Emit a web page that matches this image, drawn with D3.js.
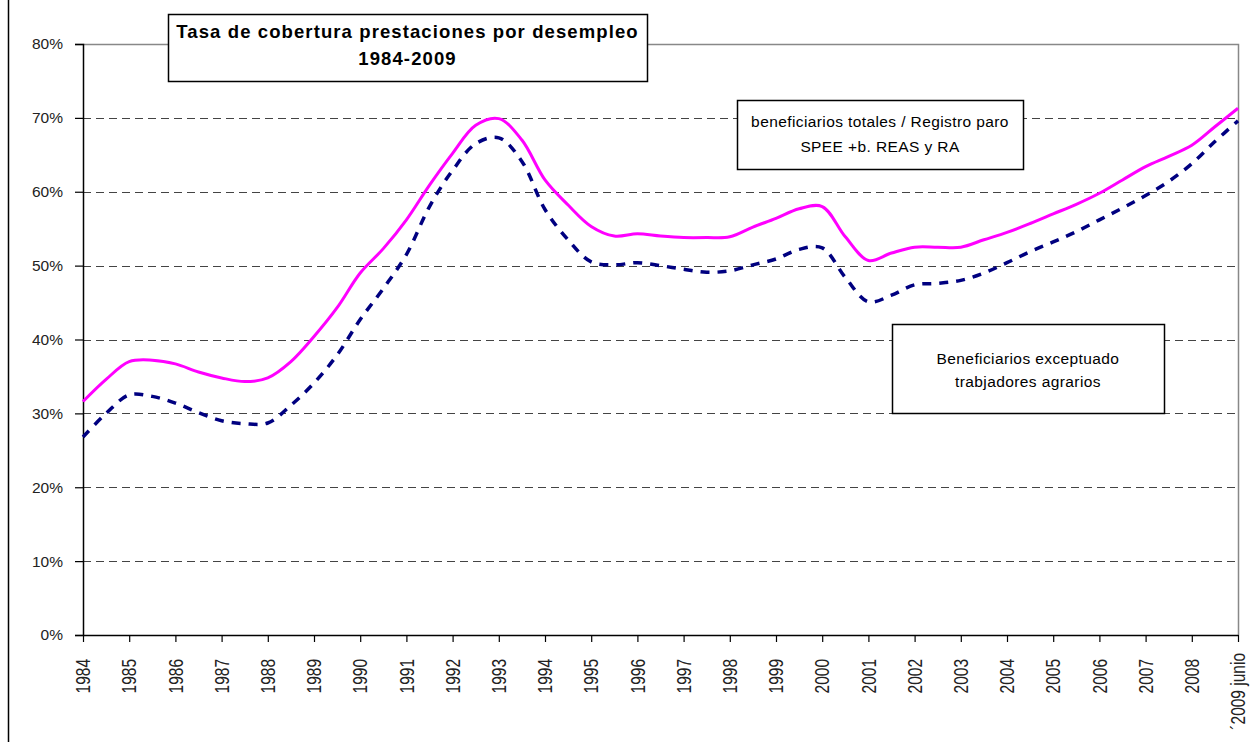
<!DOCTYPE html>
<html>
<head>
<meta charset="utf-8">
<script src="https://cdn.jsdelivr.net/npm/d3@7"></script>
<style>
  body { margin: 0; background: #fff; }
  svg { display: block; font-family: "Liberation Sans", Arial, sans-serif; }
</style>
</head>
<body>
<div id="chart"></div>
<script>
// tick labels on the category axis
const yearLabels = ['1984', '1985', '1986', '1987', '1988', '1989', '1990', '1991', '1992',
  '1993', '1994', '1995', '1996', '1997', '1998', '1999', '2000', '2001', '2002', '2003',
  '2004', '2005', '2006', '2007', '2008', '\u00b42009 junio'];

// half-year readings (%), 1984 .. 2009 junio
const totalRate = [31.6, 34.6, 37.0, 37.2, 36.7, 35.6, 34.8, 34.3, 34.8, 37.0,
  40.4, 44.3, 49.0, 52.3, 56.2, 60.9, 65.2, 69.0, 69.9, 67.0,
  61.6, 58.2, 55.3, 54.0, 54.3, 54.0, 53.8, 53.8, 53.9, 55.2,
  56.4, 57.7, 58.0, 53.9, 50.7, 51.7, 52.5, 52.5, 52.5, 53.5,
  54.5, 55.7, 57.0, 58.3, 59.8, 61.6, 63.4, 64.8, 66.3, 68.8, 71.3];

const exceptAgrarios = [26.8, 30.0, 32.5, 32.3, 31.4, 30.1, 29.0, 28.6, 28.7, 31.1,
  34.1, 37.9, 42.7, 46.9, 51.5, 58.0, 62.9, 66.5, 67.3, 64.1,
  57.6, 53.5, 50.5, 50.1, 50.4, 50.0, 49.5, 49.1, 49.3, 50.1,
  50.9, 52.2, 52.4, 48.4, 45.1, 46.0, 47.4, 47.6, 48.0, 49.0,
  50.4, 51.9, 53.2, 54.6, 56.2, 57.8, 59.5, 61.4, 63.8, 66.8, 69.6];

const yTicks = [0, 10, 20, 30, 40, 50, 60, 70, 80];

const width = 1254;
const height = 742;
const plot = { left: 83, right: 1238, top: 44, bottom: 635 };

const svg = d3.select('#chart')
  .append('svg')
  .attr('width', width)
  .attr('height', height);

// outer chart frame (only the left edge is in view)
svg.append('line')
  .attr('x1', 8.5).attr('x2', 8.5)
  .attr('y1', 0).attr('y2', height)
  .style('stroke', '#000')
  .style('stroke-width', 1.5);

const x = d3.scaleLinear()
  .domain([0, yearLabels.length - 1])
  .range([plot.left, plot.right]);

const y = d3.scaleLinear()
  .domain([0, 80])
  .range([plot.bottom, plot.top]);

// dashed gridlines
svg.append('g')
  .selectAll('line')
  .data(yTicks.filter((d) => d > 0 && d < 80))
  .enter()
  .append('line')
  .attr('x1', plot.left)
  .attr('x2', plot.right)
  .attr('y1', (d) => Math.round(y(d)) + 0.5)
  .attr('y2', (d) => Math.round(y(d)) + 0.5)
  .style('stroke', '#444')
  .style('stroke-width', 1.2)
  .style('stroke-dasharray', '8,5');

// plot area top / right border
svg.append('path')
  .attr('d', `M${plot.left},${Math.round(y(80)) + 0.5}H${plot.right + 0.5}V${plot.bottom}`)
  .style('fill', 'none')
  .style('stroke', '#888')
  .style('stroke-width', 1.5);

// y axis
const yAxis = svg.append('g')
  .attr('transform', `translate(${plot.left},0)`)
  .call(d3.axisLeft(y).tickValues(yTicks).tickSize(8).tickPadding(12).tickFormat((d) => d + '%'));
yAxis.select('.domain').style('stroke', '#000').style('stroke-width', 1.5);
yAxis.selectAll('.tick line').style('stroke', '#000').style('stroke-width', 1.2);
yAxis.selectAll('text')
  .style('font-size', '15.5px')
  .style('fill', '#222');

// x axis
const lastIdx = yearLabels.length - 1;
const xAxis = svg.append('g')
  .attr('transform', `translate(0,${plot.bottom})`)
  .call(d3.axisBottom(x)
    .tickValues(d3.range(yearLabels.length))
    .tickSize(7)
    .tickSizeOuter(0)
    .tickFormat((i) => yearLabels[i]));
xAxis.select('.domain').style('stroke', '#000').style('stroke-width', 1.5);
xAxis.selectAll('.tick line').style('stroke', '#000').style('stroke-width', 1.2);
// labels in the reference are drawn a little wider than plain Arial
xAxis.selectAll('text')
  .attr('transform', 'rotate(-90) scale(1,1.25)')
  .attr('x', (i) => (i === lastIdx ? -18 : -24))
  .attr('y', 0)
  .attr('dy', '0.35em')
  .style('text-anchor', 'end')
  .style('font-size', '15.5px')
  .style('fill', '#222');

// the two series
const line = d3.line()
  .x((d, i) => x(i / 2))
  .y((d) => y(d))
  .curve(d3.curveCatmullRom.alpha(0.5));

svg.append('path')
  .datum(exceptAgrarios)
  .attr('d', line)
  .style('fill', 'none')
  .style('stroke', '#000080')
  .style('stroke-width', 3.5)
  .style('stroke-dasharray', '9,8');

svg.append('path')
  .datum(totalRate)
  .attr('d', line)
  .style('fill', 'none')
  .style('stroke', '#ff00ff')
  .style('stroke-width', 3);

// text boxes
const boxes = [
  { x: 168, y: 14, w: 479, h: 67, lines: ['Tasa de cobertura prestaciones por desempleo', '1984-2009'],
    size: 18.5, weight: 'bold', y0: 38, dy: 27, spacing: 1.1 },
  { x: 737, y: 100, w: 286, h: 69, lines: ['beneficiarios totales / Registro paro', 'SPEE +b. REAS y RA'],
    size: 15.5, weight: 'normal', y0: 127, dy: 25, spacing: 0.4 },
  { x: 892, y: 324, w: 272, h: 89, lines: ['Beneficiarios exceptuado', 'trabjadores agrarios'],
    size: 15.5, weight: 'normal', y0: 364, dy: 23, spacing: 0.4 },
];

const boxGroups = svg.selectAll('.text-box')
  .data(boxes)
  .enter()
  .append('g')
  .attr('class', 'text-box');

boxGroups.append('rect')
  .attr('x', (d) => d.x + 0.5)
  .attr('y', (d) => d.y + 0.5)
  .attr('width', (d) => d.w)
  .attr('height', (d) => d.h)
  .style('fill', '#fff')
  .style('stroke', '#000')
  .style('stroke-width', 1.5);

boxGroups.each(function (b) {
  d3.select(this)
    .selectAll('text')
    .data(b.lines)
    .enter()
    .append('text')
    .attr('x', b.x + b.w / 2)
    .attr('y', (d, i) => b.y0 + i * b.dy)
    .attr('text-anchor', 'middle')
    .style('font-size', `${b.size}px`)
    .style('font-weight', b.weight)
    .style('letter-spacing', `${b.spacing}px`)
    .style('fill', '#000')
    .text((d) => d);
});
</script>
</body>
</html>
